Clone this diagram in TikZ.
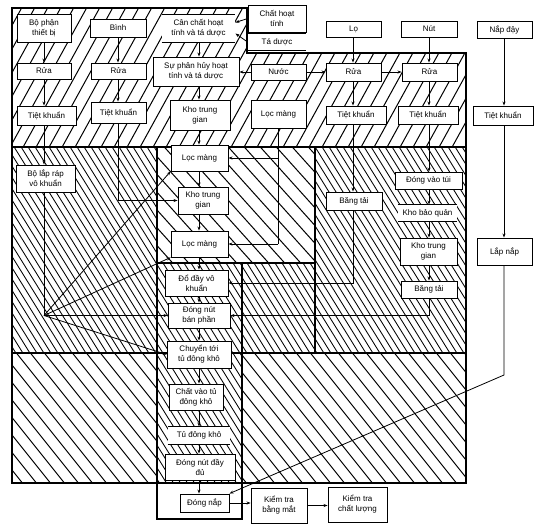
\documentclass[tikz,border=0pt]{standalone}
\usepackage{fontspec}
\setmainfont{Liberation Sans}
\usetikzlibrary{arrows.meta,calc}
\newcommand\hatchzone[6]{%
 \begin{scope}
 \clip #1;
 \foreach \k in {-130,...,130}{%
   \pgfmathsetmacro\hA{\k*#4+#5*#2}%
   \pgfmathsetmacro\hB{\k*#4+#5*#3}%
   \draw[line width=#6] (\hA,#2) -- (\hB,#3);
 }
 \end{scope}}
\newcommand\bx[6]{\node[box, minimum width={(#4-#2)*1pt}, minimum height={(#5-#3)*1pt}] (#1) at ({(#2+#4)/2},{(#3+#5)/2}) {#6};}
\newcommand\sbx[6]{\node[box, draw=none, minimum width={(#4-#2)*1pt}, minimum height={(#5-#3)*1pt}] (#1) at ({(#2+#4)/2},{(#3+#5)/2}) {#6};
 \draw[line width=0.9pt] (#1.north west) -- (#1.north east) (#1.south west) -- (#1.south east);}
\begin{document}
\begin{tikzpicture}[x=1pt,y=-1pt,
  box/.style={draw, line width=0.9pt, fill=white, inner sep=1pt, font=\fontsize{8}{10}\selectfont, align=center},
  arr/.style={line width=0.8pt, -{Stealth[length=4pt,width=3pt]}},
  ln/.style={line width=0.8pt},
  frame/.style={line width=1.3pt}]
\useasboundingbox (0,0) rectangle (554,531);
\fill[white] (0,0) rectangle (554,531);
% ---------- hatching ----------
\hatchzone{(12,8) -- (247,8) -- (247,53) -- (466,53) -- (466,147) -- (12,147) -- cycle}{8}{147}{13}{-0.55}{1pt}
\hatchzone{(12,147) rectangle (466,353)}{147}{353}{7}{0.62}{0.85pt}
\fill[white] (157,147) rectangle (315,263);
\hatchzone{(157,147) rectangle (315,263)}{147}{263}{16}{0.9}{1pt}
\hatchzone{(12,353) rectangle (466,483)}{353}{483}{14}{0.8}{1pt}
\fill[white] (157,353) rectangle (242,483);
\hatchzone{(157,353) rectangle (242,483)}{353}{483}{7}{0.62}{0.85pt}
% ---------- frames ----------
\draw[frame] (12,147) -- (12,8) -- (247,8) -- (247,53) -- (466,53) -- (466,483) -- (12,483) -- cycle;
\draw[frame] (12,147) -- (466,147);
\draw[frame] (12,353) -- (466,353);
\draw[frame] (157,147) -- (157,519) -- (242,519) -- (242,263);
\draw[frame] (157,263) -- (315,263);
\draw[frame] (315,147) -- (315,353);
% ---------- helper coordinates ----------
\coordinate (cL) at (44,0);
\coordinate (cB) at (118,0);
\coordinate (cC) at (199,0);
\coordinate (cF) at (278,0);
\coordinate (cLo) at (353,0);
\coordinate (cN) at (429,0);
\coordinate (cP) at (504,0);
% ---------- nodes ----------
\bx{tb}{17}{14}{71}{42}{Bộ phận\\thiết bị}
\bx{bi}{90}{19}{146}{37}{Bình}
\sbx{can}{162}{15}{235}{42}{Cân chất hoạt\\tính và tá dược}
\bx{chat}{248}{5}{306}{32}{Chất hoạt\\tính}
\sbx{tad}{248}{34}{306}{50}{Tá dược}
\bx{lo}{326}{21}{381}{37}{Lọ}
\bx{nut}{401}{21}{457}{37}{Nút}
\bx{nap}{477}{21}{532}{38}{Nắp đậy}
\bx{r1}{17}{63}{71}{79}{Rửa}
\bx{r2}{91}{63}{146}{79}{Rửa}
\bx{sp}{153}{57}{239}{86}{Sự phân hủy hoạt\\tính và tá dược}
\bx{nuoc}{251}{64}{306}{80}{Nước}
\bx{rl}{326}{63}{381}{81}{Rửa}
\bx{rn}{402}{63}{457}{81}{Rửa}
\bx{t1}{17}{106}{76}{125}{Tiệt khuẩn}
\bx{t2}{91}{102}{146}{123}{Tiệt khuẩn}
\bx{kt1}{170}{100}{230}{130}{Kho trung\\gian}
\bx{lmt}{251}{100}{306}{128}{Lọc màng}
\bx{tl}{326}{106}{386}{124}{Tiệt khuẩn}
\bx{tn}{398}{106}{458}{124}{Tiệt khuẩn}
\bx{tnap}{473}{106}{533}{125}{Tiệt khuẩn}
\bx{bl}{16}{165}{75}{192}{Bộ lắp ráp\\vô khuẩn}
\bx{lm1}{171}{145}{228}{171}{Lọc màng}
\bx{kt2}{178}{187}{228}{214}{Kho trung\\gian}
\bx{lm2}{171}{231}{228}{257}{Lọc màng}
\bx{bt1}{326}{192}{382}{210}{Băng tải}
\bx{dvt}{395}{172}{462}{189}{Đóng vào túi}
\sbx{kbq}{398}{205}{457}{221}{Kho bảo quản}
\bx{ktn}{400}{238}{457}{265}{Kho trung\\gian}
\bx{bt2}{401}{281}{457}{298}{Băng tải}
\bx{lap}{477}{238}{532}{265}{Lắp nắp}
\bx{dd}{165}{270}{228}{296}{Đổ đầy vô\\khuẩn}
\bx{dnb}{168}{303}{230}{328}{Đóng nút\\bán phần}
\bx{ct}{167}{341}{231}{368}{Chuyển tới\\tủ đông khô}
\bx{cv}{169}{384}{223}{410}{Chất vào tủ\\đông khô}
\sbx{tdk}{168}{427}{230}{444}{Tủ đông khô}
\bx{dnd}{165}{454}{235}{480}{Đóng nút đầy\\đủ}
\bx{dn}{180}{494}{229}{512}{Đóng nắp}
\bx{ktm}{251}{488}{307}{523}{Kiểm tra\\bằng mắt}
\bx{ktcl}{328}{487}{387}{522}{Kiểm tra\\chất lượng}
% ---------- connectors ----------
\foreach \a/\b in {tb/r1, r1/t1, t1/bl} \draw[arr] (\a.south -| cL) -- (\b.north -| cL);
\coordinate (hub) at (dnb.west -| cL);
\draw[ln] (bl.south -| cL) -- (hub);
\draw[arr] (hub) -- (lm1.south west);
\draw[arr] (hub) -- (lm2.south west);
\draw[arr] (hub) -- (dnb.west);
\draw[arr] (hub) -- (ct.west);
\foreach \a/\b in {bi/r2, r2/t2} \draw[arr] (\a.south -| cB) -- (\b.north -| cB);
\draw[arr] (t2.south -| cB) |- (kt2.west);
\foreach \a/\b in {can/sp, sp/kt1, kt1/lm1, lm1/kt2, kt2/lm2, lm2/dd, dd/dnb, dnb/ct, ct/cv, cv/tdk, tdk/dnd, dnd/dn}
  \draw[arr] (\a.south -| cC) -- (\b.north -| cC);
\draw[arr] (chat.west) -- ($(can.east)+(0,-6)$);
\draw[arr] (tad.west) -- ($(can.east)+(0,5)$);
\draw[arr] (nuoc.west) -- (nuoc.west -| sp.east);
\draw[arr] (nuoc.east) -- (nuoc.east -| rl.west);
\draw[arr] (rl.east) -- (rl.east -| rn.west);
\draw[ln] (lmt.south -| cF) -- (lm2.east -| cF);
\draw[arr] (lm1.east -| cF) -- (lm1.east);
\draw[arr] (lm2.east -| cF) -- (lm2.east);
\foreach \a/\b in {lo/rl, rl/tl, tl/bt1} \draw[arr] (\a.south -| cLo) -- (\b.north -| cLo);
\draw[arr] (bt1.south -| cLo) |- (dd.east);
\foreach \a/\b in {nut/rn, rn/tn, tn/dvt, dvt/kbq, kbq/ktn, ktn/bt2} \draw[arr] (\a.south -| cN) -- (\b.north -| cN);
\draw[arr] (bt2.south -| cN) |- (dnb.east);
\foreach \a/\b in {nap/tnap, tnap/lap} \draw[arr] (\a.south -| cP) -- (\b.north -| cP);
\coordinate (pk) at (504,375);
\draw[arr] (lap.south -| cP) -- (pk) -- (dn.north east);
\draw[arr] (dn.east) -- (dn.east -| ktm.west);
\draw[arr] (ktm.east) -- (ktm.east -| ktcl.west);
\end{tikzpicture}
\end{document}
